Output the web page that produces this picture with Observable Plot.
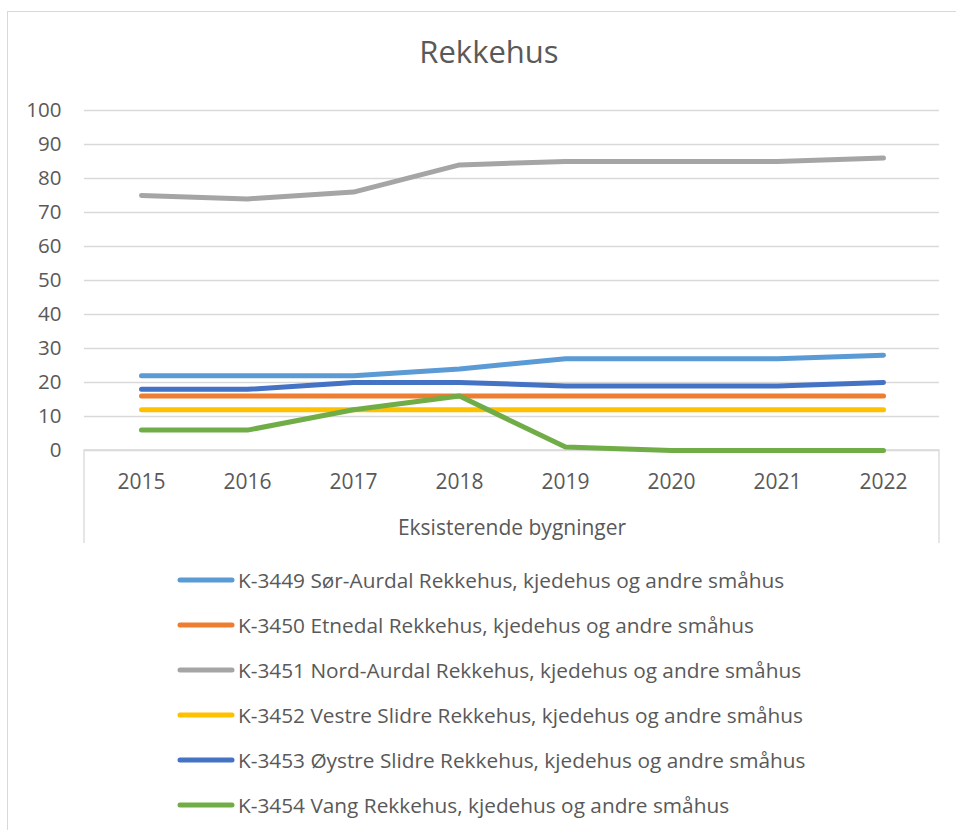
<!DOCTYPE html>
<html>
<head>
<meta charset="utf-8">
<script src="https://cdn.jsdelivr.net/npm/d3@7"></script>
<script src="https://cdn.jsdelivr.net/npm/@observablehq/plot@0.6"></script>
<style>
  html, body { margin: 0; padding: 0; background: #fff; overflow: hidden; }
  body { width: 956px; height: 830px; position: relative; font-family: "Open Sans", sans-serif; color: #595959; }
  #frame { position: absolute; left: 7px; top: 11px; width: 1000px; height: 900px; border: 1.3px solid #D9D9D9; box-sizing: border-box; }
  #title { position: absolute; left: 0; width: 978px; top: 31px; text-align: center; font-size: 31px; line-height: 40px; color: #595959; }
  #chart { position: absolute; left: 0; top: 0; }
  #legend { position: absolute; left: 177px; top: 557px; }
  .item { height: 45px; display: flex; align-items: center; font-size: 20.8px; color: #595959; white-space: nowrap; }
  .item svg { margin-right: 3px; }
</style>
</head>
<body>
<div id="frame"></div>
<div id="title">Rekkehus</div>
<div id="chart"></div>
<div id="legend"></div>
<script>
const years = ["2015", "2016", "2017", "2018", "2019", "2020", "2021", "2022"];
const seriesNames = [
  "K-3449 Sør-Aurdal Rekkehus, kjedehus og andre småhus",
  "K-3450 Etnedal Rekkehus, kjedehus og andre småhus",
  "K-3451 Nord-Aurdal Rekkehus, kjedehus og andre småhus",
  "K-3452 Vestre Slidre Rekkehus, kjedehus og andre småhus",
  "K-3453 Øystre Slidre Rekkehus, kjedehus og andre småhus",
  "K-3454 Vang Rekkehus, kjedehus og andre småhus"
];
const seriesColors = ["#5B9BD5", "#ED7D31", "#A5A5A5", "#FFC000", "#4472C4", "#70AD47"];
const sorAurdal    = [22, 22, 22, 24, 27, 27, 27, 28];
const etnedal      = [16, 16, 16, 16, 16, 16, 16, 16];
const nordAurdal   = [75, 74, 76, 84, 85, 85, 85, 86];
const vestreSlidre = [12, 12, 12, 12, 12, 12, 12, 12];
const oystreSlidre = [18, 18, 20, 20, 19, 19, 19, 20];
const vang         = [6, 6, 12, 16, 1, 0, 0, 0];
const yTicks = [0, 10, 20, 30, 40, 50, 60, 70, 80, 90, 100];
const xAxisTitle = "Eksisterende bygninger";

const seriesValues = [sorAurdal, etnedal, nordAurdal, vestreSlidre, oystreSlidre, vang];
const data = [];
seriesValues.forEach((vals, i) => {
  vals.forEach((v, j) => data.push({ series: seriesNames[i], year: years[j], value: v }));
});

const W = 956, H = 557;
const mL = 84, mR = 17, mT = 110, mB = 107;

const chart = Plot.plot({
  width: W,
  height: H,
  marginLeft: mL,
  marginRight: mR,
  marginTop: mT,
  marginBottom: mB,
  style: { fontFamily: "'Open Sans', sans-serif", color: "#595959", background: "transparent", overflow: "visible" },
  x: { type: "point", domain: years, padding: 0.5 },
  y: { domain: [0, 100] },
  color: { domain: seriesNames, range: seriesColors },
  marks: [
    Plot.gridY(yTicks, { stroke: "#D9D9D9", strokeOpacity: 1, strokeWidth: 1.3 }),
    Plot.axisY(yTicks, { tickSize: 0, tickPadding: 23, fontSize: 20.5, fill: "#595959", label: null }),
    Plot.axisX(years, { tickSize: 0, tickPadding: 24, fontSize: 21, fill: "#595959", label: null }),
    Plot.text([xAxisTitle], { frameAnchor: "bottom", dy: 78, lineAnchor: "middle", fontSize: 21, fill: "#595959", text: d => d }),
    Plot.line(data, {
      x: "year", y: "value", z: "series", stroke: "series",
      strokeWidth: 5, strokeLinecap: "round", strokeLinejoin: "round"
    })
  ]
});
document.getElementById("chart").appendChild(chart);

// category-axis box (Excel style) below the plot area
const svg = d3.select(chart);
const y0 = chart.scale("y").apply(0);
const left = mL, right = W - mR;
const g = svg.insert("g", ":first-child");
g.append("path")
  .attr("d", `M${left},${y0 + 93}V${y0}H${right}V${y0 + 93}`)
  .attr("fill", "none").attr("stroke", "#D9D9D9").attr("stroke-width", 1.3);

// legend
const legend = d3.select("#legend");
seriesNames.forEach((name, i) => {
  const item = legend.append("div").attr("class", "item");
  const s = item.append("svg").attr("width", 58).attr("height", 10);
  s.append("line").attr("x1", 3).attr("x2", 55).attr("y1", 5).attr("y2", 5)
    .attr("stroke", seriesColors[i]).attr("stroke-width", 5).attr("stroke-linecap", "round");
  item.append("span").text(name);
});
</script>
</body>
</html>
